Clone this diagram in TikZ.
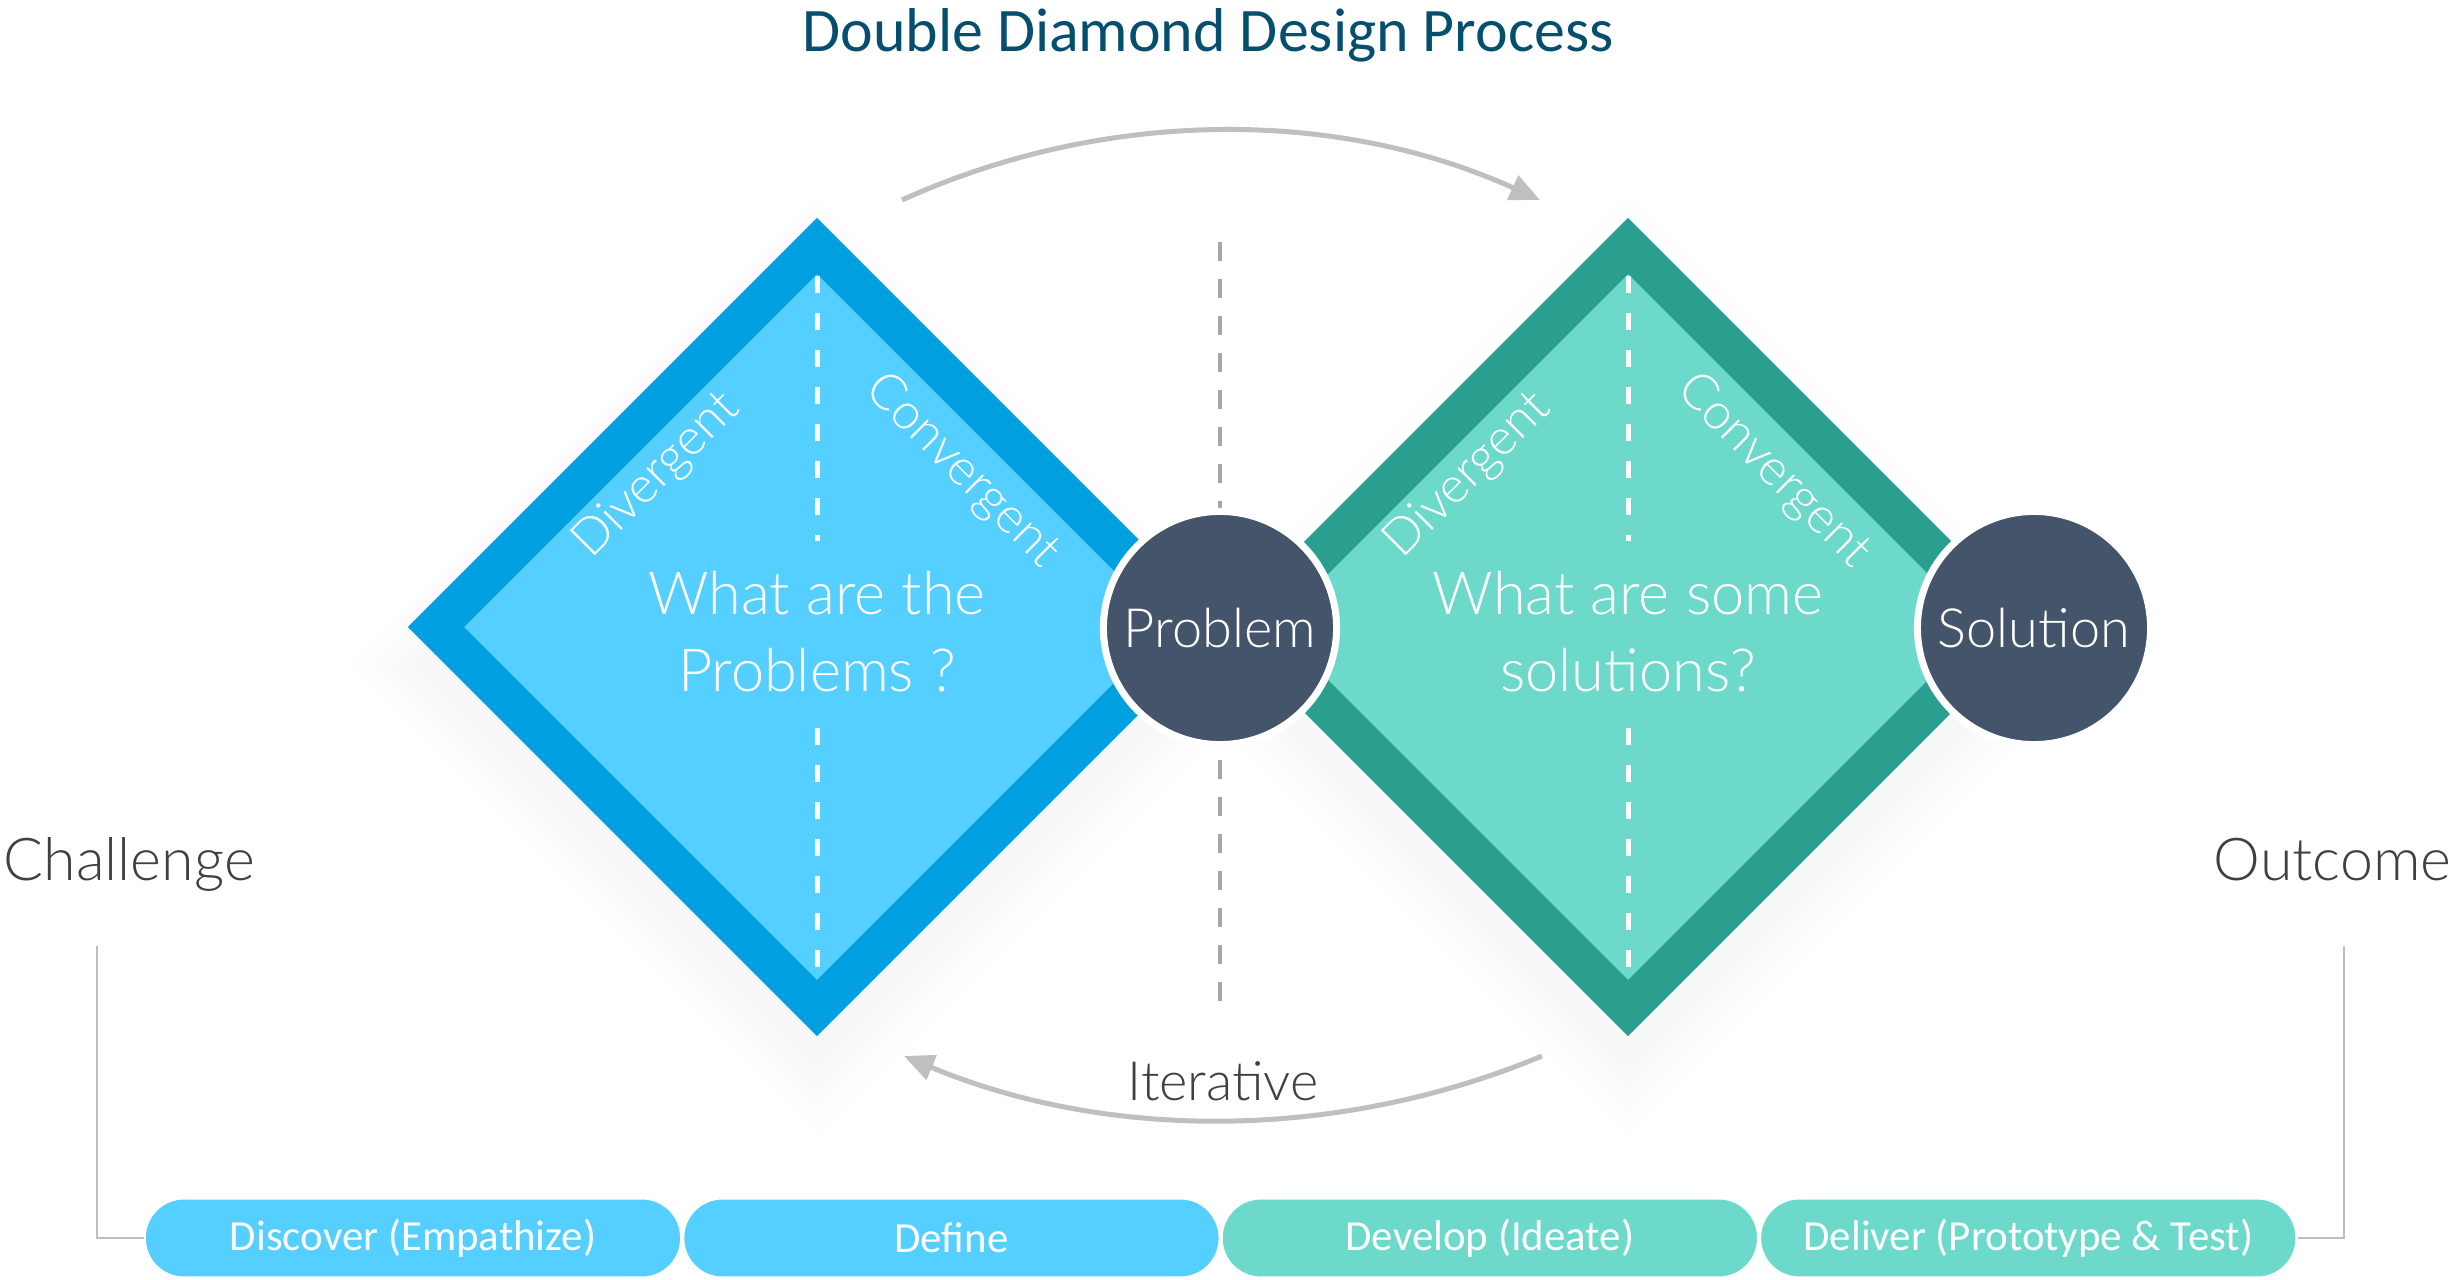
\documentclass[tikz,border=0pt]{standalone}
\usepackage{fontspec}
\setmainfont{Carlito}
\newfontfamily\lightfont{Lato Light}
\usepackage{tikz}
\definecolor{BlueEdge}{HTML}{00A0E0}
\definecolor{BlueFill}{HTML}{54CFFF}
\definecolor{TealEdge}{HTML}{2A9F90}
\definecolor{TealFill}{HTML}{6DD9CB}
\definecolor{SlateDark}{HTML}{44546A}
\definecolor{TitleBlue}{HTML}{044E6E}
\definecolor{ArrowGray}{HTML}{BFBFBF}
\definecolor{DashGray}{HTML}{A6A6A6}
\definecolor{TextGray}{HTML}{404040}
\usetikzlibrary{
	positioning,
	calc,
	arrows.meta,
	shapes.geometric
}

\begin{document}
\begin{tikzpicture}[
	x=0.01cm, y=-0.01cm,
	diamondbox/.style={diamond, line width=0.396cm, minimum width=7.78cm, minimum height=7.78cm, inner sep=0pt},
	shadowbox/.style={diamond, fill=black, fill opacity=0.005, inner sep=0pt},
	question/.style={text=white, align=center, font=\lightfont\fontsize{16.9}{21.9}\selectfont},
	phaselabel/.style={text=white, font=\lightfont\fontsize{14.2}{17}\selectfont},
	milestone/.style={circle, fill=SlateDark, draw=white, line width=0.07cm, minimum size=2.33cm, inner sep=0pt, text=white, font=\lightfont\fontsize{15.4}{18}\selectfont},
	middash/.style={white, line width=0.05cm, dash pattern=on 0.17cm off 0.2cm},
	centerdash/.style={DashGray, line width=0.045cm, dash pattern=on 0.19cm off 0.18cm},
	cyclearrow/.style={ArrowGray, line width=0.05cm, -{Triangle[length=0.3cm, width=0.26cm]}},
	pill/.style={draw=white, line width=0.6pt, rounded corners=0.39cm, minimum width=5.36cm, minimum height=0.79cm, inner sep=0pt, text=white, font=\fontsize{12.2}{14}\selectfont},
	endlabel/.style={text=TextGray, inner sep=0pt, font=\lightfont\fontsize{16.8}{21}\selectfont},
	bracket/.style={ArrowGray, line width=0.02cm}
]
	\useasboundingbox (0,0) rectangle (2452,1279);

	\node[font=\fontsize{17.6}{21}\selectfont, text=TitleBlue, anchor=base] (title) at (1208,52) {Double Diamond Design Process};

	\foreach \k in {0,...,7} {
		\node[shadowbox, minimum width=7.9cm+\k*0.22cm, minimum height=7.9cm+\k*0.22cm] at (817,665) {};
		\node[shadowbox, minimum width=7.9cm+\k*0.22cm, minimum height=7.9cm+\k*0.22cm] at (1628,665) {};
	}

	\node[diamondbox, draw=BlueEdge, fill=BlueFill] (dl) at (817,627) {};
	\node[diamondbox, draw=TealEdge, fill=TealFill] (dr) at (1628,627) {};

	\draw[middash] ($(dl.center)+(0,-351)$) -- ($(dl.center)+(0,-86)$);
	\draw[middash] ($(dl.center)+(0,101)$) -- ($(dl.center)+(0,349)$);
	\draw[middash] ($(dr.center)+(0,-351)$) -- ($(dr.center)+(0,-86)$);
	\draw[middash] ($(dr.center)+(0,101)$) -- ($(dr.center)+(0,349)$);

	\node[question] (qleft) at (817,632) {What are the\\Problems ?};
	\node[question] (qright) at (1628,632) {What are some\\solutions?};

	\node[phaselabel, rotate=45] (divl) at (657,476) {Divergent};
	\node[phaselabel, rotate=-45] (convl) at (962,471) {Convergent};
	\node[phaselabel, rotate=45] (divr) at (1468,476) {Divergent};
	\node[phaselabel, rotate=-45] (convr) at (1773,471) {Convergent};

	\coordinate (divtop) at (1220,242);
	\coordinate (divbot) at (1220,1009);
	\draw[centerdash] (divtop) -- (divbot);

	\node[milestone] (problem) at (1220,628) {Problem};
	\node[milestone] (solution) at (2034,628) {Solution};

	\coordinate (fwdstart) at (902,200);
	\coordinate (fwdend) at (1540,200);
	\draw[cyclearrow] (fwdstart) .. controls (1105,108) and (1337,108) .. (fwdend);

	\coordinate (backstart) at (1542,1056);
	\coordinate (backend) at (904,1056);
	\draw[cyclearrow] (backstart) .. controls (1338,1141) and (1108,1141) .. (backend);
	\node[endlabel, font=\lightfont\fontsize{15.4}{18}\selectfont] (iterative) at (1223,1081) {Iterative};

	\node[pill, fill=BlueFill] (discover) at (413,1238) {Discover (Empathize)};
	\node[pill, fill=BlueFill, right=0pt of discover] (define) {Define};
	\node[pill, fill=TealFill, right=0pt of define] (develop) {Develop (Ideate)};
	\node[pill, fill=TealFill, right=0pt of develop] (deliver) {Deliver (Prototype \& Test)};

	\node[endlabel, anchor=base west] (challenge) at (3,880) {Challenge};
	\node[endlabel, anchor=base east] (outcome) at (2452,880) {Outcome};
	\coordinate (chline) at (97,946);
	\coordinate (ocline) at (2344,946);
	\draw[bracket] (chline) |- (discover.west);
	\draw[bracket] (ocline) |- (deliver.east);

\end{tikzpicture}
\end{document}
